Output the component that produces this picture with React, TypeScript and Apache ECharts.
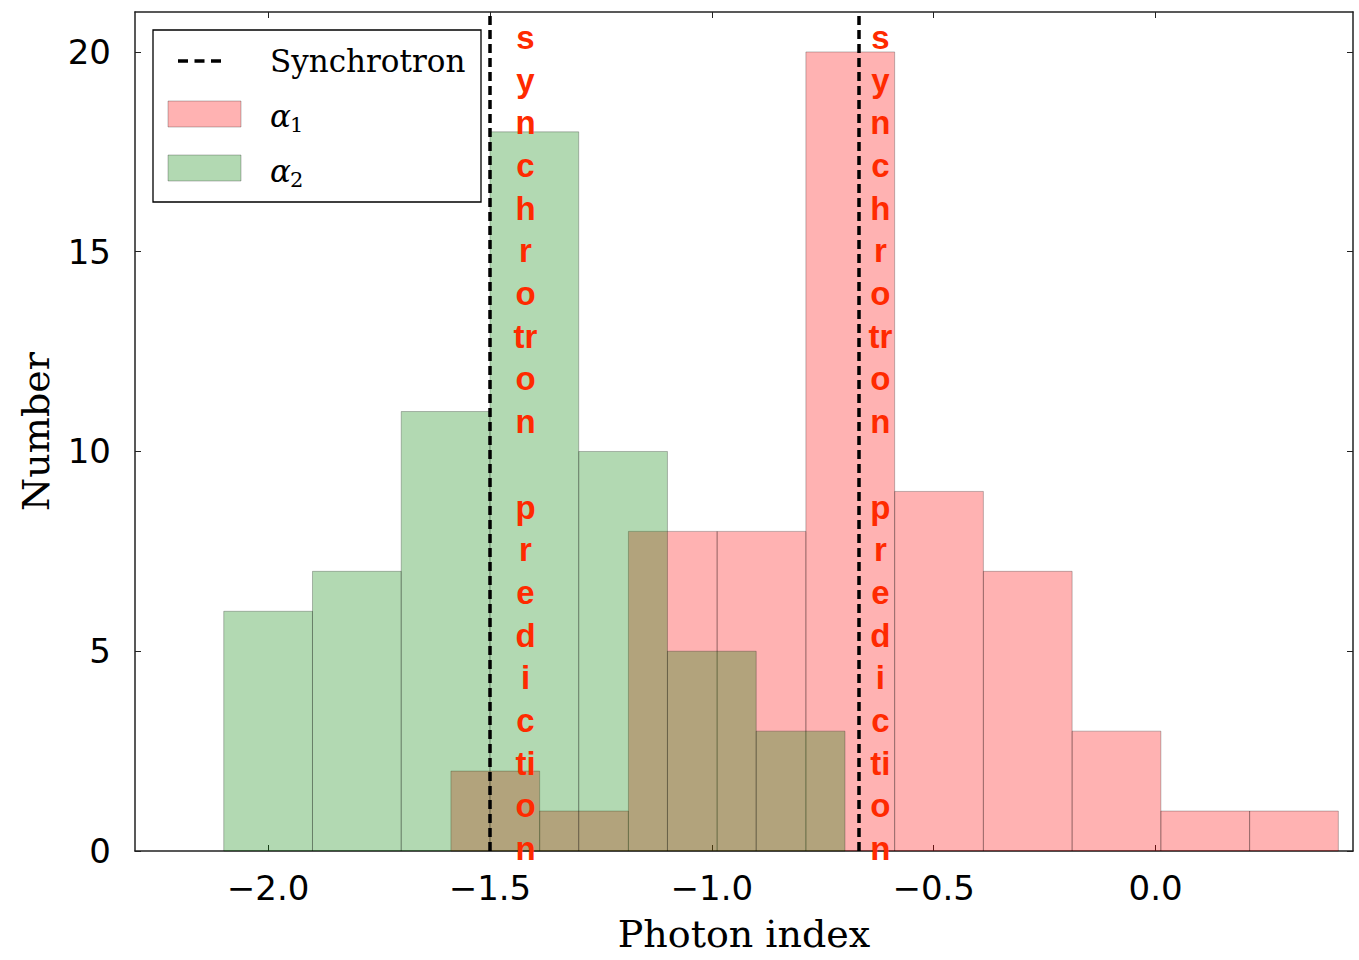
import React, { useEffect, useRef } from "react";
import * as echarts from "echarts";

// Histogram of alpha_2 (green)
const alpha2Edges = [-2.1, -1.9, -1.7, -1.5, -1.3, -1.1, -0.9, -0.7];
const alpha2Counts = [6, 7, 11, 18, 10, 5, 3];
// Histogram of alpha_1 (red)
const alpha1Edges = [-1.588, -1.388, -1.188, -0.988, -0.788, -0.588, -0.388, -0.188, 0.012, 0.212, 0.412];
const alpha1Counts = [2, 1, 8, 8, 20, 9, 7, 3, 1, 1];
// Synchrotron prediction lines
const synchrotronLines = [-1.5, -0.67];
const annotationX = [-1.42, -0.62];
const annotationLines = ["s", "y", "n", "c", "h", "r", "o", "tr", "o", "n", "", "p", "r", "e", "d", "i", "c", "ti", "o", "n"];
// Ticks
const xTicks = [-2.0, -1.5, -1.0, -0.5, 0.0];
const yTicks = [0, 5, 10, 15, 20];

const buildBins = (edges: number[], counts: number[]) =>
  counts.map((c, i) => [edges[i], edges[i + 1], c]);

const fmtX = (v: number) => (v < 0 ? "\u2212" : "") + Math.abs(v).toFixed(1);

const SERIF = "'DejaVu Serif', 'Liberation Serif', serif";
const SANS = "'DejaVu Sans', sans-serif";
const AXIS_COLOR = "#222";
const EDGE = "rgba(0,0,0,0.25)";

export default function App() {
  const ref = useRef<HTMLDivElement>(null);
  useEffect(() => {
    document.body.style.margin = "0";
    if (!ref.current) return;
    const chart = echarts.init(ref.current, null, { renderer: "svg" });

    const histRender = (fill: string) => (params: any, api: any) => {
      const x0 = api.value(0);
      const x1 = api.value(1);
      const c = api.value(2);
      const p0 = api.coord([x0, c]);
      const p1 = api.coord([x1, 0]);
      return {
        type: "rect",
        shape: { x: p0[0], y: p0[1], width: p1[0] - p0[0], height: p1[1] - p0[1] },
        style: { fill, stroke: EDGE, lineWidth: 1 },
      };
    };

    const axisCommon = {
      type: "value",
      min: -2.3,
      max: 0.445,
      splitLine: { show: false },
      axisLine: { show: true, onZero: false, lineStyle: { color: AXIS_COLOR, width: 1.5 } },
      axisTick: { show: true, inside: true, length: 6, customValues: xTicks, lineStyle: { color: AXIS_COLOR, width: 1 } },
    };
    const yCommon = {
      type: "value",
      min: 0,
      max: 21,
      splitLine: { show: false },
      axisLine: { show: true, onZero: false, lineStyle: { color: AXIS_COLOR, width: 1.5 } },
      axisTick: { show: true, inside: true, length: 6, customValues: yTicks, lineStyle: { color: AXIS_COLOR, width: 1 } },
    };

    chart.setOption({
      animation: false,
      backgroundColor: "#fff",
      grid: { left: 135, right: 6, top: 12, bottom: 109, containLabel: false, outerBoundsMode: "none" },
      xAxis: [
        {
          ...axisCommon,
          position: "bottom",
          axisLabel: {
            customValues: xTicks,
            formatter: (v: number) => fmtX(v),
            fontFamily: SANS,
            fontSize: 34,
            color: "#000",
            margin: 20,
          },
          name: "Photon index",
          nameLocation: "middle",
          nameGap: 64,
          nameTextStyle: { fontFamily: SERIF, fontSize: 38, color: "#000" },
        },
        { ...axisCommon, position: "top", axisLabel: { show: false } },
      ],
      yAxis: [
        {
          ...yCommon,
          position: "left",
          axisLabel: { customValues: yTicks, fontFamily: SANS, fontSize: 34, color: "#000", margin: 24 },
          name: "Number",
          nameLocation: "middle",
          nameRotate: 90,
          nameGap: 80,
          nameTextStyle: { fontFamily: SERIF, fontSize: 38, color: "#000" },
        },
        { ...yCommon, position: "right", axisLabel: { show: false } },
      ],
      series: [
        {
          name: "α1",
          type: "custom",
          renderItem: histRender("rgba(255,0,0,0.3)"),
          encode: { x: [0, 1], y: 2 },
          data: buildBins(alpha1Edges, alpha1Counts),
          z: 2,
        },
        {
          name: "α2",
          type: "custom",
          renderItem: histRender("rgba(0,128,0,0.3)"),
          encode: { x: [0, 1], y: 2 },
          data: buildBins(alpha2Edges, alpha2Counts),
          z: 3,
        },
        {
          name: "Synchrotron",
          type: "line",
          data: [],
          z: 4,
          markLine: {
            silent: true,
            symbol: ["none", "none"],
            label: { show: false },
            lineStyle: { color: "#000", type: [9, 5], width: 3.5 },
            data: synchrotronLines.map((v) => ({ xAxis: v })),
          },
        },
      ],
    });

    const top = chart.convertToPixel({ yAxisIndex: 0 }, 21) as number;
    const annotations = annotationX.map((xv) => ({
      type: "text",
      z: 100,
      x: chart.convertToPixel({ xAxisIndex: 0 }, xv) as number,
      y: top + 4,
      style: {
        text: annotationLines.join("\n"),
        fill: "#ff2a00",
        font: "bold 33px 'Liberation Sans', Arial, sans-serif",
        lineHeight: 42.7,
        textAlign: "center",
        textVerticalAlign: "top",
      },
    }));

    const legend = {
      type: "group",
      z: 90,
      children: [
        { type: "rect", shape: { x: 153, y: 30, width: 328, height: 172 }, style: { fill: "#fff", stroke: "#000", lineWidth: 1.3 } },
        { type: "line", shape: { x1: 178, y1: 61, x2: 222, y2: 61 }, style: { stroke: "#000", lineWidth: 3.5, lineDash: [10, 6.5] } },
        { type: "text", x: 270, y: 61, style: { text: "Synchrotron", font: `31px ${SERIF}`, fill: "#000", textVerticalAlign: "middle" } },
        { type: "rect", shape: { x: 168, y: 101, width: 73, height: 26 }, style: { fill: "rgba(255,0,0,0.3)", stroke: EDGE, lineWidth: 1 } },
        { type: "text", x: 270, y: 116, style: { text: "α", font: `italic 31px ${SERIF}`, fill: "#000", textVerticalAlign: "middle" } },
        { type: "text", x: 290, y: 125, style: { text: "1", font: `21px ${SERIF}`, fill: "#000", textVerticalAlign: "middle" } },
        { type: "rect", shape: { x: 168, y: 155, width: 73, height: 26 }, style: { fill: "rgba(0,128,0,0.3)", stroke: EDGE, lineWidth: 1 } },
        { type: "text", x: 270, y: 171, style: { text: "α", font: `italic 31px ${SERIF}`, fill: "#000", textVerticalAlign: "middle" } },
        { type: "text", x: 290, y: 180, style: { text: "2", font: `21px ${SERIF}`, fill: "#000", textVerticalAlign: "middle" } },
      ],
    };

    chart.setOption({ graphic: [legend, ...annotations] });

    return () => chart.dispose();
  }, []);
  return <div ref={ref} style={{ width: 1359, height: 960 }} />;
}
